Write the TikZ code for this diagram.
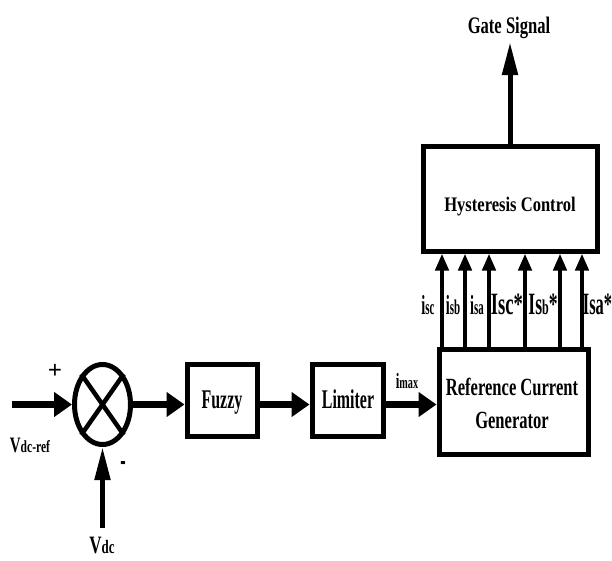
\documentclass[tikz,border=0pt]{standalone}
\usepackage{fontspec}
\setmainfont{Liberation Serif}
\usepackage{graphicx}
\usetikzlibrary{arrows.meta,shapes.geometric}
\newcommand{\cnd}[3]{\scalebox{#1}[1]{\fontsize{#2}{#2}\selectfont\bfseries #3}}
\newcommand{\sbs}[2]{{\fontsize{#1}{#1}\selectfont #2}}
\begin{document}
\begin{tikzpicture}[x=1pt,y=-1pt,
  blk/.style={draw, line width=5pt, inner sep=0pt, rectangle},
  txt/.style={inner sep=0pt, anchor=base},
  bigarrow/.style={line width=7pt, -{Triangle[length=18pt,width=24pt]}},
  sigarrow/.style={line width=4.5pt, -{Triangle[length=17pt,width=13pt]}},
  longarrow/.style={line width=5pt, -{Triangle[length=33pt,width=15pt]}}]
\path[use as bounding box] (0,0) rectangle (612,560);

% blocks
\node[blk, minimum width=174pt, minimum height=105pt] (hyst) at (510,198.5) {};
\node[blk, minimum width=149pt, minimum height=105pt] (rcg) at (513.5,401.5) {};
\node[blk, minimum width=70pt, minimum height=72pt] (fuzzy) at (222,400) {};
\node[blk, minimum width=71pt, minimum height=72pt] (lim) at (347.5,400) {};
\node[draw, ellipse, line width=5pt, inner sep=0pt, minimum width=56pt, minimum height=80pt] (sum) at (102.5,404.5) {};
\draw[line width=4.5pt] (sum.55) -- (sum.235);
\draw[line width=4.5pt] (sum.125) -- (sum.305);

% coordinates
\coordinate (axis) at (0,404.5);
\coordinate (inL) at (12,404.5);
\coordinate (vdcS) at (102.5,528);
\coordinate (gtip) at (0,42);
\coordinate (c1) at (442,0);
\coordinate (c2) at (465,0);
\coordinate (c3) at (489,0);
\coordinate (c4) at (525,0);
\coordinate (c5) at (560,0);
\coordinate (c6) at (582,0);

% connectors
\draw[bigarrow] (inL) -- (sum.west);
\draw[bigarrow] (sum.east) -- (sum.east -| fuzzy.west);
\draw[bigarrow] (fuzzy.east |- axis) -- (lim.west |- axis);
\draw[bigarrow] (lim.east |- axis) -- (rcg.west |- axis);
\draw[longarrow] (vdcS) -- (sum.south);
\draw[longarrow] (hyst.north) -- (hyst.north |- gtip);
\foreach \c in {c1,c2,c3,c4,c5,c6}
  \draw[sigarrow] (rcg.north -| \c) -- (hyst.south -| \c);

% texts
\node[txt] (tgate) at (509,33) {\cnd{0.7}{23.7}{Gate Signal}};
\node[txt] (thyst) at (510,211) {\cnd{0.8}{20.7}{Hysteresis Control}};
\node[txt] (tfuz) at (222,408) {\cnd{0.59}{27}{Fuzzy}};
\node[txt] (tlim) at (348,408) {\cnd{0.59}{27}{Limiter}};
\node[txt] (trcg1) at (512,395) {\cnd{0.67}{24.7}{Reference Current}};
\node[txt] (trcg2) at (512,428) {\cnd{0.67}{24.7}{Generator}};

\node[txt] (lisc) at (428,314) {\cnd{0.52}{27.5}{i\sbs{21}{sc}}};
\node[txt] (lisb) at (453,314) {\cnd{0.52}{27.5}{i\sbs{21}{sb}}};
\node[txt] (lisa) at (477,314) {\cnd{0.52}{27.5}{i\sbs{21}{sa}}};
\node[txt] (lIsc) at (507,314) {\cnd{0.6}{31}{Isc*}};
\node[txt] (lIsb) at (543,314) {\cnd{0.57}{31}{Is\sbs{21}{b}*}};
\node[txt] (lIsa) at (597.5,314) {\cnd{0.53}{31}{Isa*}};

\node[txt] (limax) at (407,388) {\cnd{0.6}{21.7}{i\sbs{17}{max}}};
\node[txt] (lvref) at (30,452) {\cnd{0.68}{22}{V\sbs{17}{dc-ref}}};
\node[txt] (lvdc) at (102,553) {\cnd{0.68}{25}{V\sbs{19}{dc}}};
\node[inner sep=0pt] (lplus) at (55,371) {\cnd{1}{25}{+}};
\node[inner sep=0pt] (lminus) at (123,466) {\cnd{0.45}{36}{-}};
\end{tikzpicture}
\end{document}
